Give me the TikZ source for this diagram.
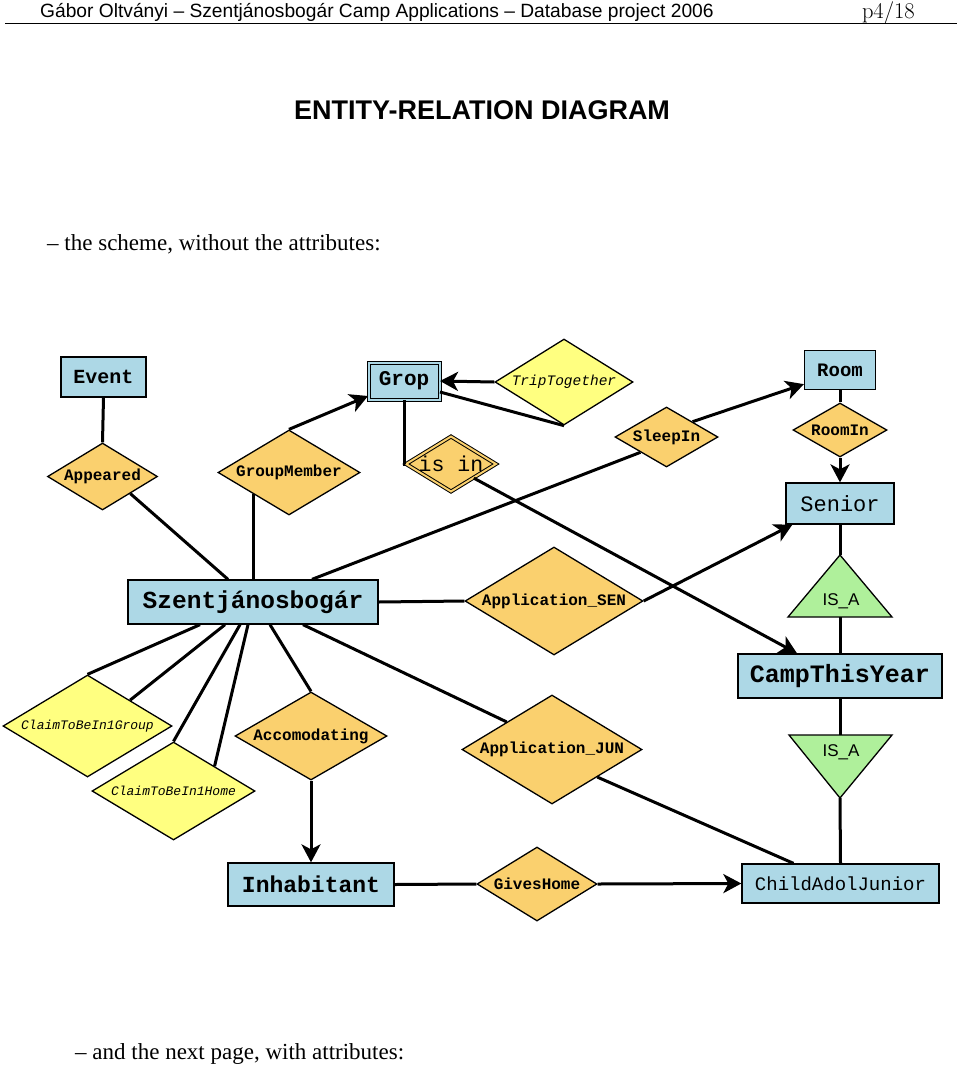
\documentclass[tikz,border=0pt]{standalone}
\usepackage{fontspec}
\setsansfont{Liberation Sans}
\setmonofont{Liberation Mono}
\newfontfamily\timesfont{Liberation Serif}
\usetikzlibrary{shapes.geometric,arrows.meta,calc}
\definecolor{entcol}{RGB}{173,216,230}
\definecolor{relcol}{RGB}{250,208,110}
\definecolor{yelcol}{RGB}{255,255,128}
\definecolor{isacol}{RGB}{175,240,155}
\newcommand\fs[1]{\fontsize{#1}{#1}\selectfont}
\tikzset{
  ent/.style={draw, line width=1.3pt, fill=entcol, inner sep=0pt},
  rel/.style={diamond, draw, line width=1.3pt, fill=relcol, inner sep=0pt, font=\ttfamily\bfseries\fs{16}},
  yrel/.style={diamond, draw, line width=1.3pt, fill=yelcol, inner sep=0pt, font=\ttfamily\itshape\fs{13}},
  isatri/.style={draw, line width=1.3pt, fill=isacol},
  isatext/.style={font=\sffamily\fs{17}, inner sep=0pt},
  conn/.style={line width=3pt},
  arr/.style={line width=3pt, -{Stealth[length=18pt, width=19pt, inset=5pt]}},
}
\begin{document}
\begin{tikzpicture}[x=1pt,y=-1pt]
\fill[white] (0,0) rectangle (960,1066);
\useasboundingbox (0,0) rectangle (960,1066);

% header
\node[anchor=base west, inner sep=0pt, font=\sffamily\fs{19.2}] (hdr) at (40,17.5)
  {Gábor Oltványi – Szentjánosbogár Camp Applications – Database project 2006};
\node[anchor=base east, inner sep=0pt, font=\fs{22.5}] (pg) at (915,18.5) {p4/18};
\draw[line width=1.8pt] (5,23.5) -- (957,23.5);

\node[font=\sffamily\bfseries\fs{27}] (title) at (482,110) {ENTITY-RELATION DIAGRAM};
\node[anchor=base west, inner sep=0pt, font=\timesfont\fs{23}] (t1) at (47,250)
  {– the scheme, without the attributes:};
\node[anchor=base west, inner sep=0pt, font=\timesfont\fs{23}] (t2) at (75,1059)
  {– and the next page, with attributes:};

% entities
\node[ent, minimum width=85pt, minimum height=40pt, font=\ttfamily\bfseries\fs{20}] (event) at (103.5,377) {Event};
\node[ent, double=entcol, double distance=2pt, line width=1pt, minimum width=71pt, minimum height=37pt, font=\ttfamily\bfseries\fs{21}] (grop) at (404,381) {Grop};
\node[ent, minimum width=71pt, minimum height=39pt, font=\ttfamily\bfseries\fs{19}] (room) at (840,370) {Room};
\node[ent, minimum width=108pt, minimum height=41pt, font=\ttfamily\fs{22}] (senior) at (840,503.5) {Senior};
\node[ent, minimum width=250pt, minimum height=44pt, font=\ttfamily\bfseries\fs{24.5}] (szent) at (253,602) {Szentjánosbogár};
\node[ent, minimum width=204pt, minimum height=44pt, font=\ttfamily\bfseries\fs{25}] (camp) at (840,676) {CampThisYear};
\node[ent, minimum width=166pt, minimum height=43pt, font=\ttfamily\bfseries\fs{23}] (inhab) at (311,884.5) {Inhabitant};
\node[ent, minimum width=197pt, minimum height=39pt, font=\ttfamily\fs{19}] (child) at (840.5,883.5) {ChildAdolJunior};

% relationships
\node[rel, minimum width=110pt, minimum height=67pt, aspect=1.64] (appeared) at (102.5,476.5) {Appeared};
\node[rel, minimum width=142pt, minimum height=85pt, aspect=1.67] (gmember) at (289,472.5) {GroupMember};
\node[yrel, minimum width=138pt, minimum height=86pt, aspect=1.60, font=\ttfamily\itshape\fs{14.5}] (trip) at (564,382) {TripTogether};
\node[rel, double=relcol, double distance=2pt, line width=1pt, minimum width=88pt, minimum height=54pt, aspect=1.63, font=\ttfamily\fs{21.5}] (isin) at (451,464) {is in};
\node[rel, minimum width=103pt, minimum height=60pt, aspect=1.72] (sleepin) at (666.5,437) {SleepIn};
\node[rel, minimum width=94pt, minimum height=54pt, aspect=1.74] (roomin) at (840,430) {RoomIn};
\node[rel, minimum width=178pt, minimum height=108pt, aspect=1.65] (appsen) at (554,601) {Application\_SEN};
\node[rel, minimum width=180pt, minimum height=109pt, aspect=1.65] (appjun) at (552,749.5) {Application\_JUN};
\node[yrel, minimum width=169pt, minimum height=102pt, aspect=1.66] (cgroup) at (87.5,726) {ClaimToBeIn1Group};
\node[yrel, minimum width=163pt, minimum height=98pt, aspect=1.66] (chome) at (173.5,791) {ClaimToBeIn1Home};
\node[rel, minimum width=152pt, minimum height=88pt, aspect=1.73] (accom) at (311,736) {Accomodating};
\node[rel, minimum width=120pt, minimum height=74pt, aspect=1.62] (gives) at (537,884) {GivesHome};

% IS_A triangles
\coordinate (isaAtop) at (840,555);
\coordinate (isaAbot) at (840,617);
\draw[isatri] (isaAtop) -- (892,617) -- (788,617) -- cycle;
\node[isatext] (isaA) at (841,601) {IS\_A};
\coordinate (isaBtop) at (840,735);
\coordinate (isaBbot) at (840,798);
\draw[isatri] (789,735) -- (892,735) -- (isaBbot) -- cycle;
\node[isatext] (isaB) at (841,752) {IS\_A};

% connectors
\draw[conn] (event.south) -- (appeared.north);
\draw[conn] (appeared.south east) -- ($(szent.north)+(-25,0)$);
\draw[conn] (gmember.south west) -- (gmember.south west |- szent.north);
\draw[arr] (gmember.north) -- ($(grop.south west)+(0,-4)$);
\draw[arr] (trip.west) -- (grop.east);
\draw[conn] ($(grop.east)+(0,11)$) -- (trip.south);
\draw[conn] (grop.south) |- (isin.west);
\draw[arr] (isin.south east) -- ($(camp.north)+(-43,0)$);
\draw[conn] ($(szent.north)+(59,0)$) -- (sleepin.south west);
\draw[arr] (sleepin.north east) -- ($(room.south west)+(0,-6)$);
\draw[conn] (room.south) -- (roomin.north);
\draw[arr] (roomin.south) -- (senior.north);
\draw[conn] (senior.south) -- (isaAtop);
\draw[conn] (isaAbot) -- (camp.north);
\draw[conn] (szent.east) -- (appsen.west);
\draw[arr] (appsen.east) -- ($(senior.south west)+(7,0)$);
\draw[conn] (camp.south) -- (isaBtop);
\draw[conn] (isaBbot) -- (child.north);
\draw[conn] ($(szent.south)+(-53,0)$) -- (cgroup.north);
\draw[conn] ($(szent.south)+(-28,0)$) -- (cgroup.north east);
\draw[conn] ($(szent.south)+(-13,0)$) -- (chome.north);
\draw[conn] ($(szent.south)+(-5,0)$) -- (chome.north east);
\draw[conn] ($(szent.south)+(17,0)$) -- (accom.north);
\draw[conn] ($(szent.south)+(50,0)$) -- (appjun.north west);
\draw[conn] (appjun.south east) -- ($(child.north)+(-47,0)$);
\draw[arr] (accom.south) -- (inhab.north);
\draw[conn] (inhab.east) -- (gives.west);
\draw[arr] (gives.east) -- (child.west);
\end{tikzpicture}
\end{document}
